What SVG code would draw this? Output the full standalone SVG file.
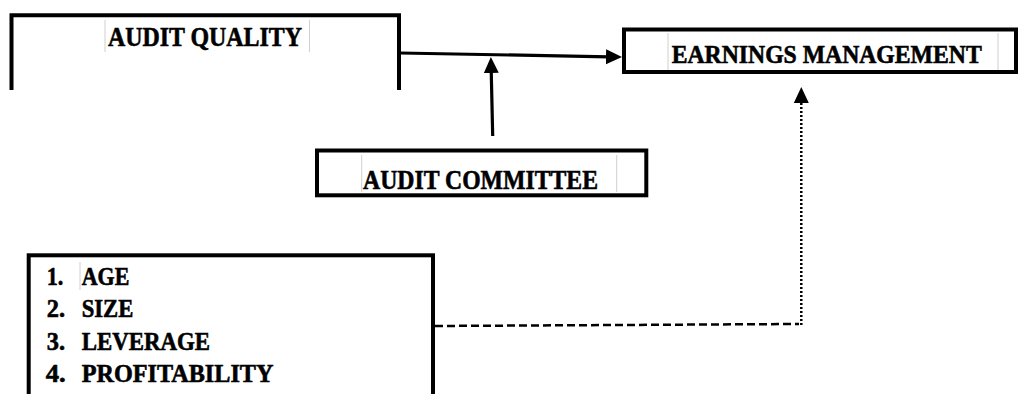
<svg xmlns="http://www.w3.org/2000/svg" width="1020" height="394" viewBox="0 0 1020 394">
  <style>
    .box { fill: #ffffff; stroke: #000000; stroke-width: 4; }
    .lbl { font-family: "Liberation Serif", "DejaVu Serif", serif; font-weight: bold; font-size: 28px; fill: #000000; stroke: #000000; stroke-width: 0.6; }
    .lbl-s { font-size: 26px; }
    .item { font-family: "Liberation Serif", "DejaVu Serif", serif; font-weight: bold; font-size: 25.5px; fill: #000000; stroke: #000000; stroke-width: 0.6; }
    .mark { stroke: #cfcfcf; stroke-width: 1; fill: none; }
    .solid { stroke: #000000; stroke-width: 3.2; fill: none; }
    .dash { stroke: #000000; stroke-width: 2.5; fill: none; stroke-dasharray: 8 4; }
    .dot { stroke: #000000; stroke-width: 2.5; fill: none; stroke-dasharray: 2 2; }
  </style>
  <defs>
    <marker id="head" markerUnits="userSpaceOnUse" markerWidth="16" markerHeight="16" refX="3" refY="8" orient="auto">
      <path d="M0,0.5 L16,8 L0,15.5 z" fill="#000000"/>
    </marker>
  </defs>

  <rect width="1020" height="394" fill="#ffffff"/>

  <!-- connectors -->
  <g id="connectors">
    <line class="solid" x1="400" y1="53" x2="609" y2="56.8" marker-end="url(#head)"/>
    <line class="solid" x1="492.7" y1="136" x2="491.2" y2="70" marker-end="url(#head)"/>
    <line class="dash" x1="435" y1="326" x2="799" y2="324"/>
    <path class="dot" d="M801.3,325 V100" marker-end="url(#head)"/>
  </g>

  <!-- nodes -->
  <g id="audit-quality">
    <path class="box" d="M11.5,90 V15.3 H399 V90"/>
    <line class="mark" x1="105" y1="20" x2="105" y2="52"/>
    <line class="mark" x1="309.5" y1="20" x2="309.5" y2="52"/>
    <text class="lbl" x="108" y="45.5" textLength="194" lengthAdjust="spacingAndGlyphs">AUDIT QUALITY</text>
  </g>

  <g id="earnings-management">
    <rect class="box" x="624" y="29.5" width="392" height="42.5"/>
    <line class="mark" x1="668" y1="33" x2="668" y2="70"/>
    <line class="mark" x1="998" y1="33" x2="998" y2="70"/>
    <text class="lbl lbl-s" x="671.7" y="63" textLength="310" lengthAdjust="spacingAndGlyphs">EARNINGS MANAGEMENT</text>
  </g>

  <g id="audit-committee">
    <rect class="box" x="317" y="150.5" width="329.3" height="44.8"/>
    <line class="mark" x1="361.7" y1="155" x2="361.7" y2="192"/>
    <line class="mark" x1="616.7" y1="155" x2="616.7" y2="192"/>
    <text class="lbl" x="363" y="188.5" textLength="235" lengthAdjust="spacingAndGlyphs">AUDIT COMMITTEE</text>
  </g>

  <g id="firm-characteristics">
    <rect class="box" x="28.7" y="255.3" width="404.3" height="150"/>
    <line class="mark" x1="80" y1="262" x2="80" y2="290"/>
    <text class="item" x="46.7" y="285" textLength="16.6" lengthAdjust="spacingAndGlyphs">1.</text>
    <text class="item" x="81.7" y="285" textLength="47.6" lengthAdjust="spacingAndGlyphs">AGE</text>
    <text class="item" x="46.7" y="317.3" textLength="18.3" lengthAdjust="spacingAndGlyphs">2.</text>
    <text class="item" x="81.7" y="317.3" textLength="51.6" lengthAdjust="spacingAndGlyphs">SIZE</text>
    <text class="item" x="46.7" y="350" textLength="18.3" lengthAdjust="spacingAndGlyphs">3.</text>
    <text class="item" x="81.7" y="350" textLength="128.3" lengthAdjust="spacingAndGlyphs">LEVERAGE</text>
    <text class="item" x="45.7" y="381.7" textLength="20" lengthAdjust="spacingAndGlyphs">4.</text>
    <text class="item" x="81.7" y="381.7" textLength="191.7" lengthAdjust="spacingAndGlyphs">PROFITABILITY</text>
  </g>
</svg>
